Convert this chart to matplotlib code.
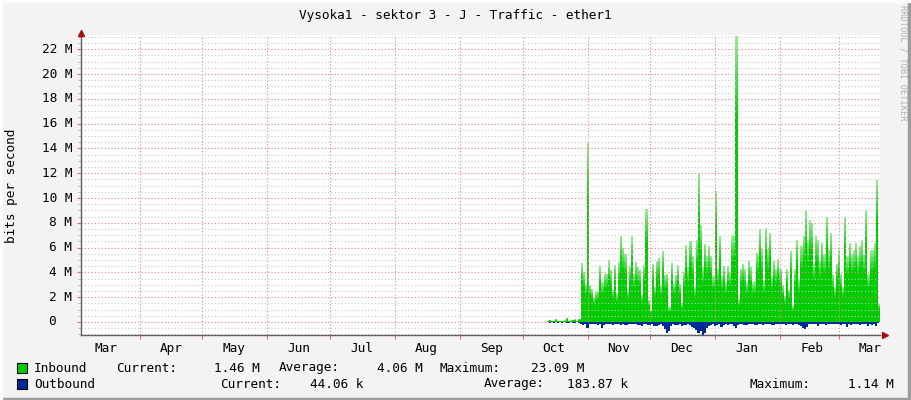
import numpy as np
import pandas as pd
import matplotlib
matplotlib.use('Agg')
import matplotlib.pyplot as plt
import matplotlib.dates as mdates
from matplotlib.patches import Rectangle
from matplotlib.colors import to_rgb

title = 'Vysoka1 - sektor 3 - J - Traffic - ether1'
ylabel = 'bits per second'

# inbound / outbound daily values in Mbit/s, 2024-10-13 .. 2025-03-20
in_oct = [0.05, 0.2, 0.1, 0.08, 0.25, 0.1, 0.08, 0.1, 0.12, 0.35, 0.1, 0.12, 0.2, 0.22, 0.1, 0.25, 4.75, 4.0, 3.1]
in_nov = [14.4, 3.0, 2.7, 2.0, 2.4, 2.5, 4.5, 3.2, 3.9, 3.9, 5.0, 4.2, 2.6, 4.6, 2.3, 4.8, 6.9, 6.0, 5.5, 2.6,
          4.5, 6.9, 3.9, 4.8, 4.4, 4.2, 2.2, 4.6, 9.1, 1.8]
in_dec = [1.0, 4.7, 2.85, 4.9, 5.2, 3.0, 5.7, 3.8, 3.9, 1.2, 4.75, 3.1, 3.8, 4.6, 3.1, 1.5, 4.0, 6.2, 4.4, 6.5,
          5.3, 2.8, 6.6, 12.0, 7.8, 4.4, 6.3, 5.3, 6.1, 5.3, 3.7]
in_jan = [10.6, 4.25, 6.9, 3.7, 4.5, 3.2, 4.5, 4.0, 6.9, 7.0, 23.09, 1.83, 4.3, 4.65, 4.25, 3.2, 4.92, 4.4, 3.2, 3.3,
          5.6, 7.47, 5.86, 3.3, 7.6, 5.86, 7.2, 3.7, 4.9, 4.25, 5.05]
in_feb = [4.25, 3.0, 2.1, 4.25, 2.6, 5.7, 1.3, 4.25, 6.6, 3.4, 6.1, 6.9, 9.0, 6.6, 8.2, 7.96, 4.7, 6.9, 6.6, 5.0,
          6.35, 5.5, 8.5, 5.8, 7.15, 3.9, 2.85, 4.7]
in_mar = [5.8, 3.9, 2.85, 8.5, 5.3, 6.35, 5.5, 5.8, 6.35, 5.3, 6.1, 6.6, 5.5, 9.0, 3.9, 5.8, 5.8, 6.35, 11.45, 1.46]

out_oct = [0.04, 0.05, 0.04, 0.05, 0.04, 0.05, 0.04, 0.05, 0.04, 0.06, 0.05, 0.04, 0.05, 0.05, 0.04, 0.05, 0.2, 0.25, 0.18]
out_nov = [0.5, 0.2, 0.18, 0.15, 0.2, 0.22, 0.18, 0.45, 0.25, 0.15, 0.18, 0.2, 0.22, 0.15, 0.2, 0.15, 0.22, 0.18, 0.25, 0.22,
           0.18, 0.15, 0.16, 0.2, 0.25, 0.28, 0.3, 0.2, 0.15, 0.22]
out_dec = [0.25, 0.2, 0.35, 0.3, 0.22, 0.18, 0.3, 0.55, 0.85, 0.7, 0.3, 0.2, 0.22, 0.28, 0.2, 0.3, 0.25, 0.22, 0.2, 0.28,
           0.4, 0.5, 0.65, 0.9, 0.7, 1.14, 0.85, 0.5, 0.35, 0.25, 0.2]
out_jan = [0.3, 0.25, 0.2, 0.4, 0.22, 0.18, 0.25, 0.2, 0.18, 0.35, 0.45, 0.25, 0.2, 0.18, 0.22, 0.28, 0.18, 0.2, 0.15, 0.22,
           0.25, 0.18, 0.2, 0.25, 0.15, 0.2, 0.18, 0.22, 0.25, 0.2, 0.15]
out_feb = [0.2, 0.15, 0.2, 0.25, 0.2, 0.15, 0.22, 0.18, 0.2, 0.25, 0.3, 0.45, 0.6, 0.4, 0.2, 0.15, 0.2, 0.18, 0.3, 0.2,
           0.15, 0.2, 0.28, 0.2, 0.15, 0.2, 0.18, 0.2]
out_mar = [0.2, 0.25, 0.2, 0.15, 0.4, 0.2, 0.25, 0.2, 0.15, 0.2, 0.25, 0.2, 0.15, 0.2, 0.3, 0.2, 0.25, 0.2, 0.3, 0.044]

inbound = np.array(in_oct + in_nov + in_dec + in_jan + in_feb + in_mar)
outbound = np.array(out_oct + out_nov + out_dec + out_jan + out_feb + out_mar)
days = pd.date_range('2024-10-13', periods=len(inbound), freq='D')

yticks = [0, 2, 4, 6, 8, 10, 12, 14, 16, 18, 20, 22]
ytick_labels = ['0', '2 M', '4 M', '6 M', '8 M', '10 M', '12 M', '14 M', '16 M', '18 M', '20 M', '22 M']

series_names = ['Inbound', 'Outbound']
series_colors = ['#00CC00', '#002A97']
in_stats = ['1.46 M', '4.06 M', '23.09 M']
out_stats = ['44.06 k', '183.87 k', '1.14 M']

W, H = 911, 400
fx = lambda px: px / W
fy = lambda py: 1 - py / H

plt.rcParams['font.family'] = ['DejaVu Sans Mono']
fs = 9.2

fig = plt.figure(figsize=(W / 100, H / 100), dpi=100, facecolor='#F3F3F3')
ax = fig.add_axes([fx(80.5), fy(335), fx(880) - fx(80.5), fy(35) - fy(335)])
ax.set_facecolor('white')

x = mdates.date2num(days)

# inbound as an rgba image: one column per day, tops of the spikes paler
green = np.array(to_rgb(series_colors[0]))
top = 23.5
levels = (np.arange(940) + 0.5) * top / 940
t = levels[:, None] / inbound[None, :]
w = np.clip((t - 0.7) / 0.3, 0, 1) * 0.6
img = np.ones((len(levels), len(inbound), 4))
img[..., :3] = green[None, None, :] * (1 - w[..., None]) + w[..., None]
img[..., 3] = (t <= 1).astype(float)
ax.imshow(img, extent=[x[0] - 0.5, x[-1] + 0.5, 0, top], origin='lower',
          aspect='auto', interpolation='nearest', zorder=2)

ax.fill_between(x, 0, -outbound, step='mid', color=series_colors[1], lw=0, zorder=3)

ax.set_xlim(mdates.datestr2num('2024-03-03 19:00'), mdates.datestr2num('2025-03-20 17:00'))
ax.set_ylim(-1.05, 23.15)

# grid
ax.set_yticks(yticks)
ax.set_yticks(np.arange(-1.0, 23.1, 0.5), minor=True)
ax.yaxis.set_ticklabels([])
ax.xaxis.set_major_locator(mdates.MonthLocator())
ax.xaxis.set_minor_locator(mdates.MonthLocator(bymonthday=16))
ax.xaxis.set_major_formatter(plt.NullFormatter())
ax.xaxis.set_minor_formatter(mdates.DateFormatter('%b'))
ax.grid(True, axis='y', which='minor', color='#c8c8c8', linestyle=(0, (1, 2)), lw=0.8)
ax.grid(True, axis='y', which='major', color='#f08080', linestyle=(0, (1, 2)), lw=0.8)
ax.grid(True, axis='x', which='major', color='#f08080', linestyle=(0, (1, 2)), lw=0.8)
ax.set_axisbelow(False)
for gl in ax.get_xgridlines() + ax.get_ygridlines():
    gl.set_zorder(4)
ax.tick_params(axis='y', which='major', length=3, color='#e07070')
ax.tick_params(axis='y', which='minor', length=2, color='#b0b0b0')
ax.tick_params(axis='x', which='major', length=3, color='#e07070')
ax.tick_params(axis='x', which='minor', length=0, pad=5, labelsize=fs, labelcolor='#000000')

for s in ['top', 'right']:
    ax.spines[s].set_visible(False)
for s in ['left', 'bottom']:
    ax.spines[s].set_color('#606060')
    ax.spines[s].set_linewidth(1)
    ax.spines[s].set_zorder(5)

# axis arrows
ax.plot([0], [1.008], marker='^', ms=4, color='#a01010', transform=ax.transAxes, clip_on=False, zorder=6)
ax.plot([1.006], [0], marker='>', ms=4, color='#a01010', transform=ax.transAxes, clip_on=False, zorder=6)

# y tick labels
ytr = ax.get_yaxis_transform()
for v, lab in zip(yticks, ytick_labels):
    xr = 72 if lab.endswith('M') else 56
    ax.text((xr - 80.5) / 799.5, v, lab, transform=ytr, ha='right', va='center', fontsize=fs)

fig.text(fx(455), fy(15), title, ha='center', va='center', fontsize=fs)
fig.text(fx(12), fy(186), ylabel, rotation=90, ha='center', va='center', fontsize=fs)
fig.text(fx(903), fy(5), 'RRDTOOL / TOBI OETIKER', rotation=270, ha='center', va='top',
         fontsize=6.2, color='#b0b0b0')

# legend
rows = [368, 384]
for name, col, r in zip(series_names, series_colors, rows):
    fig.patches.append(Rectangle((fx(17), fy(r + 5)), 10 / W, 10 / H, transform=fig.transFigure,
                                 facecolor=col, edgecolor='black', lw=0.8))
    fig.text(fx(34), fy(r), name, ha='left', va='center', fontsize=fs)

lab_x1 = [116, 279, 440]
val_x1 = [260, 423, 584]
lab_x2 = [220, 484, 750]
val_x2 = [363, 628, 894]
for lab, lx, vx, v in zip(['Current:', 'Average:', 'Maximum:'], lab_x1, val_x1, in_stats):
    fig.text(fx(lx), fy(rows[0]), lab, ha='left', va='center', fontsize=fs)
    fig.text(fx(vx), fy(rows[0]), v, ha='right', va='center', fontsize=fs)
for lab, lx, vx, v in zip(['Current:', 'Average:', 'Maximum:'], lab_x2, val_x2, out_stats):
    fig.text(fx(lx), fy(rows[1]), lab, ha='left', va='center', fontsize=fs)
    fig.text(fx(vx), fy(rows[1]), v, ha='right', va='center', fontsize=fs)

# frame
fig.patches.append(Rectangle((0, 0), 1, 2 / H, transform=fig.transFigure, color='#9c9c9c'))
fig.patches.append(Rectangle((1 - 3 / W, 0), 3 / W, 1, transform=fig.transFigure, color='#9c9c9c'))
fig.patches.append(Rectangle((0, 1 - 2 / H), 1, 2 / H, transform=fig.transFigure, color='#fcfcfc'))
fig.patches.append(Rectangle((0, 0), 2 / W, 1, transform=fig.transFigure, color='#fcfcfc'))

fig.savefig('out.png', dpi=100, facecolor=fig.get_facecolor())
